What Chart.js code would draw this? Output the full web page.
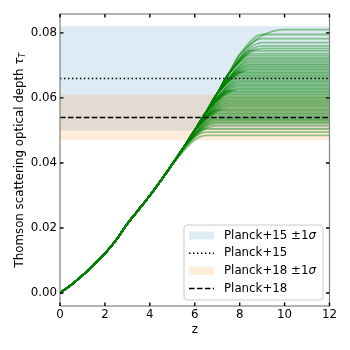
<!DOCTYPE html>
<html>
<head>
<meta charset="utf-8">
<script src="https://cdn.jsdelivr.net/npm/chart.js@4.4.1/dist/chart.umd.min.js"></script>
<style>
  html, body { margin: 0; padding: 0; background: #fff; }
  #wrap { width: 350px; height: 350px; }
</style>
</head>
<body>
<div id="wrap"><canvas id="myChart" width="350" height="350"></canvas></div>
<script>
'use strict'

// common rise of tau with z
const riseZ   = [0, 0.5, 1, 1.5, 2, 2.5, 3, 3.5, 4, 4.5, 5, 5.5, 6, 6.5, 7, 7.5, 8, 8.5, 9];
const riseTau = [0, 0.0025, 0.0054, 0.0086, 0.0121, 0.0163, 0.0213, 0.0256, 0.0300, 0.0347,
                 0.0396, 0.0447, 0.0500, 0.0555, 0.0613, 0.0673, 0.0733, 0.0795, 0.0860];
const tailZ = [10, 11, 12];
// how far below / above its plateau a curve leaves / rejoins the common rise
const kneeDepth = 0.005;

// final value of each green curve
const plateaus = [
  0.0485, 0.0495, 0.0505, 0.0515,
  0.0522, 0.0527, 0.0532, 0.0536, 0.054, 0.0545, 0.055, 0.0554, 0.0559, 0.0563,
  0.0568, 0.0573, 0.0577, 0.0582, 0.0586, 0.0591, 0.0595, 0.06, 0.0604, 0.0609,
  0.0613, 0.0618, 0.0622, 0.0627, 0.0631, 0.0636, 0.064, 0.0645, 0.065, 0.0654,
  0.0659, 0.0663, 0.0668, 0.0672, 0.0677, 0.0681, 0.0686, 0.069, 0.0695, 0.07,
  0.0704, 0.0709, 0.0714, 0.0719, 0.0724, 0.073, 0.0736,
  0.0745, 0.0752, 0.076, 0.077, 0.0782, 0.0795, 0.081
];

// Planck measurements
const planck15 = 0.066, planck15Err = 0.016;
const planck18 = 0.054, planck18Err = 0.007;

const xTicks = [0, 2, 4, 6, 8, 10, 12];
const yTicks = [0, 0.02, 0.04, 0.06, 0.08];

const blueBand = 'rgba(31,119,180,0.15)';
const orangeBand = 'rgba(255,127,14,0.15)';
const FS = 11.8;

Chart.defaults.font.family = "'DejaVu Sans', sans-serif";
Chart.defaults.font.size = FS;
Chart.defaults.color = '#000';

function flat(v) {
  return [{x: 0, y: v}, {x: 12, y: v}];
}

let datasets = [];

// reference lines, on top
datasets.push({
  data: flat(planck18), borderColor: '#000', borderWidth: 1.5,
  borderDash: [5.55, 2.4], pointRadius: 0, order: 0
});
datasets.push({
  data: flat(planck15), borderColor: '#000', borderWidth: 1.5,
  borderDash: [1.5, 2.475], pointRadius: 0, order: 0
});

// green curves: common rise, then bend over onto the plateau
for (let p of plateaus) {
  let pts = [];
  riseZ.forEach((z, i) => {
    if (riseTau[i] <= p - kneeDepth) pts.push({x: z, y: riseTau[i]});
    else if (riseTau[i] >= p + kneeDepth) pts.push({x: z, y: p});
  });
  tailZ.forEach(z => pts.push({x: z, y: p}));
  datasets.push({
    data: pts, borderColor: 'rgba(0,128,0,0.42)', borderWidth: 1.8,
    pointRadius: 0, cubicInterpolationMode: 'monotone', order: 5
  });
}

// Planck+18 band
datasets.push({
  data: flat(planck18 + planck18Err), borderWidth: 0, pointRadius: 0,
  backgroundColor: orangeBand, fill: '+1', order: 10
});
datasets.push({data: flat(planck18 - planck18Err), borderWidth: 0, pointRadius: 0, fill: false, order: 10});

// Planck+15 band
datasets.push({
  data: flat(planck15 + planck15Err), borderWidth: 0, pointRadius: 0,
  backgroundColor: blueBand, fill: '+1', order: 20
});
datasets.push({data: flat(planck15 - planck15Err), borderWidth: 0, pointRadius: 0, fill: false, order: 20});

// frame, inward ticks, axis titles and legend
const overlay = {
  id: 'overlay',
  afterDraw(chart) {
    const ctx = chart.ctx;
    const a = chart.chartArea;
    const xs = chart.scales.x, ys = chart.scales.y;
    ctx.save();

    ctx.strokeStyle = '#808080';
    ctx.lineWidth = 1.2;
    ctx.strokeRect(a.left, a.top, a.right - a.left, a.bottom - a.top);

    ctx.strokeStyle = '#000';
    ctx.lineWidth = 1.4;
    ctx.beginPath();
    xTicks.forEach(v => {
      const px = xs.getPixelForValue(v);
      ctx.moveTo(px, a.bottom); ctx.lineTo(px, a.bottom - 3.5);
      ctx.moveTo(px, a.top); ctx.lineTo(px, a.top + 3.5);
    });
    yTicks.forEach(v => {
      const py = ys.getPixelForValue(v);
      ctx.moveTo(a.left, py); ctx.lineTo(a.left + 3.5, py);
      ctx.moveTo(a.right, py); ctx.lineTo(a.right - 3.5, py);
    });
    ctx.stroke();

    const reg = FS + "px 'DejaVu Sans'";
    const ital = "italic " + FS + "px 'DejaVu Sans'";
    ctx.fillStyle = '#000';

    // x title
    ctx.font = reg;
    ctx.textAlign = 'center';
    ctx.textBaseline = 'middle';
    ctx.fillText('z', (a.left + a.right) / 2, a.bottom + 24);

    // y title with tau_T
    ctx.save();
    ctx.translate(20, (a.top + a.bottom) / 2);
    ctx.rotate(-Math.PI / 2);
    ctx.textAlign = 'left';
    const main = 'Thomson scattering optical depth ';
    ctx.font = reg;
    const w1 = ctx.measureText(main).width;
    ctx.font = ital;
    const w2 = ctx.measureText('τ').width;
    ctx.font = "italic " + (FS * 0.7) + "px 'DejaVu Sans'";
    const w3 = ctx.measureText('T').width;
    let x0 = -(w1 + w2 + w3) / 2;
    ctx.font = reg;
    ctx.fillText(main, x0, 0);
    ctx.font = ital;
    ctx.fillText('τ', x0 + w1, 0);
    ctx.font = "italic " + (FS * 0.7) + "px 'DejaVu Sans'";
    ctx.fillText('T', x0 + w1 + w2, 3);
    ctx.restore();

    // legend
    const bw = 139, bh = 75;
    const bx = a.right - 6.5 - bw, by = a.bottom - 6 - bh;
    ctx.beginPath();
    ctx.roundRect(bx, by, bw, bh, 3);
    ctx.fillStyle = 'rgba(255,255,255,0.8)';
    ctx.fill();
    ctx.strokeStyle = '#cccccc';
    ctx.lineWidth = 1;
    ctx.stroke();

    const items = [
      {kind: 'patch', color: blueBand, text: 'Planck+15 ±1', sigma: true},
      {kind: 'line', dash: [1.5, 2.475], text: 'Planck+15'},
      {kind: 'patch', color: orangeBand, text: 'Planck+18 ±1', sigma: true},
      {kind: 'line', dash: [5.55, 2.4], text: 'Planck+18'}
    ];
    items.forEach((it, i) => {
      const cy = by + 10.5 + i * 17.7;
      const hx = bx + 5;
      if (it.kind === 'patch') {
        ctx.fillStyle = it.color;
        ctx.fillRect(hx, cy - 4, 25, 8);
      } else {
        ctx.strokeStyle = '#000';
        ctx.lineWidth = 1.5;
        ctx.setLineDash(it.dash);
        ctx.beginPath();
        ctx.moveTo(hx, cy); ctx.lineTo(hx + 25, cy);
        ctx.stroke();
        ctx.setLineDash([]);
      }
      ctx.fillStyle = '#000';
      ctx.textAlign = 'left';
      ctx.textBaseline = 'middle';
      ctx.font = reg;
      const tx = bx + 40;
      ctx.fillText(it.text, tx, cy);
      if (it.sigma) {
        const tw = ctx.measureText(it.text).width;
        ctx.font = ital;
        ctx.fillText('σ', tx + tw, cy);
      }
    });

    ctx.restore();
  }
};

const ctx = document.getElementById('myChart');
window.myChart = new Chart(ctx, {
  type: 'line',
  data: {datasets: datasets},
  options: {
    responsive: false,
    animation: false,
    devicePixelRatio: 1,
    layout: {padding: {left: 0, top: 14, right: 20.5, bottom: 0}},
    plugins: {legend: {display: false}, tooltip: {enabled: false}},
    scales: {
      x: {
        type: 'linear', min: 0, max: 12,
        grid: {display: false, drawTicks: false},
        border: {display: false},
        afterFit: s => { s.height = 44; },
        afterBuildTicks: s => { s.ticks = xTicks.map(v => ({value: v})); },
        ticks: {padding: 2, maxRotation: 0, callback: v => String(v)}
      },
      y: {
        type: 'linear', min: -0.004, max: 0.0858,
        grid: {display: false, drawTicks: false},
        border: {display: false},
        afterFit: s => { s.width = 60; },
        afterBuildTicks: s => { s.ticks = yTicks.map(v => ({value: v})); },
        ticks: {padding: 3, callback: v => v.toFixed(2)}
      }
    }
  },
  plugins: [overlay]
});
</script>
</body>
</html>
